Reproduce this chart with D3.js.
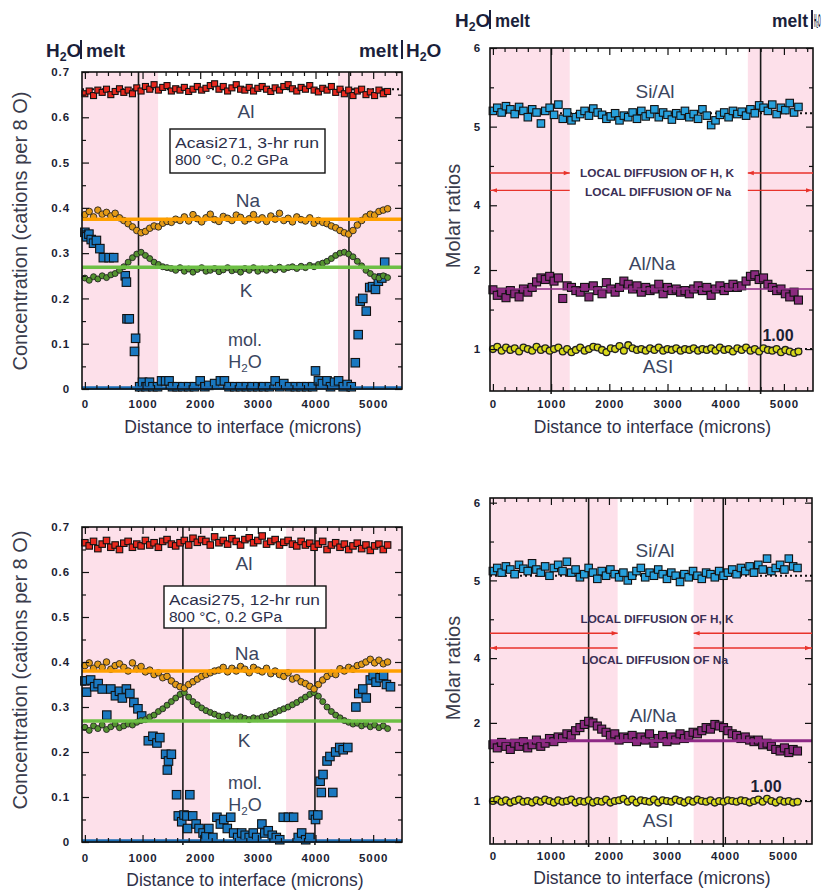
<!DOCTYPE html>
<html><head><meta charset="utf-8">
<script src="https://cdn.jsdelivr.net/npm/d3@7"></script>
<style>
body{margin:0;background:#fff}
svg{display:block}
text{font-family:"Liberation Sans",Arial,sans-serif}
</style>
</head><body>
<svg id="c" width="822" height="893"></svg>
<script>
// ---------- DATA ----------
const xPos = [0,75,150,225,300,375,450,525,600,675,750,825,900,975,1050,1125,1200,1275,1350,1425,1500,1575,1650,1725,1800,1875,1950,2025,2100,2175,2250,2325,2400,2475,2550,2625,2700,2775,2850,2925,3000,3075,3150,3225,3300,3375,3450,3525,3600,3675,3750,3825,3900,3975,4050,4125,4200,4275,4350,4425,4500,4575,4650,4725,4800,4875,4950,5025,5100,5175,5250];
const xTicks = [0,1000,2000,3000,4000,5000];
const concTicks = [0,0.1,0.2,0.3,0.4,0.5,0.6,0.7];
const ratioTicks = [1,2,4,5,6];

// Acasi271, 3-hr run (top left)
const tlAl = [0.652,0.658,0.648,0.660,0.655,0.662,0.650,0.657,0.663,0.655,0.660,0.652,0.665,0.658,
0.668,0.662,0.672,0.660,0.666,0.670,0.658,0.663,0.660,0.666,0.657,0.662,0.668,0.660,
0.664,0.670,0.674,0.662,0.668,0.658,0.665,0.672,0.662,0.660,0.666,0.658,0.664,0.668,
0.662,0.657,0.665,0.660,0.668,0.672,0.663,0.658,0.666,0.662,0.670,0.660,0.656,0.664,
0.660,0.668,0.655,0.662,0.652,0.660,0.648,0.658,0.662,0.650,0.656,0.648,0.660,0.652,0.657];
const tlNa = [0.385,0.392,0.380,0.395,0.386,0.390,0.382,0.388,
0.378,0.372,0.365,0.358,0.350,0.345,
0.348,0.355,0.360,0.358,0.366,0.370,0.368,
0.375,0.372,0.380,0.371,0.385,0.376,0.369,0.378,0.386,0.374,0.370,0.381,0.377,0.372,0.384,0.379,0.371,0.376,0.385,0.373,0.378,0.370,0.382,0.375,0.388,0.372,0.377,0.369,0.380,0.374,0.371,0.378,0.366,0.372,0.368,
0.365,0.360,0.356,0.350,0.345,0.342,
0.350,0.362,0.372,0.380,0.386,0.384,0.392,0.395,0.398];
const tlK = [0.245,0.240,0.248,0.243,0.250,0.246,0.252,0.255,0.262,0.270,
0.280,0.290,0.298,0.302,
0.295,0.288,0.280,0.275,0.270,0.268,0.266,
0.262,0.268,0.260,0.265,0.258,0.264,0.268,0.260,0.262,0.266,0.259,0.263,0.268,0.261,0.264,0.258,0.266,0.262,0.268,0.260,0.265,0.262,0.267,0.263,0.269,0.264,0.268,0.270,0.266,0.271,0.268,0.273,0.270,0.275,0.278,
0.282,0.288,0.295,0.300,0.302,0.298,
0.292,0.282,0.272,0.262,0.255,0.248,0.245,0.250,0.246];
const tlH2Ox = [0,30,70,110,150,200,260,320,420,500,700,720,730,770,880,860,
950,1000,1060,1120,1180,1260,1330,1400,1460,1520,1600,1700,1800,1900,2000,2080,2150,2250,2350,2420,2500,2600,2700,2800,2900,3000,3100,3200,3300,3380,3450,3550,3650,3750,3850,3950,4000,4050,4120,4200,4260,4330,4400,4480,4550,4620,
4690,4740,4775,4820,4880,4940,4990,5040,5090,5150,5200];
const tlH2O = [0.346,0.336,0.342,0.330,0.322,0.328,0.310,0.290,0.290,0.290,0.250,0.236,0.155,0.155,0.112,0.083,
0.005,0.015,0.005,0.015,0.005,0.005,0.018,0.018,0.018,0.005,0.005,0.005,0.005,0.005,0.018,0.005,0.008,0.012,0.018,0.018,0.005,0.005,0.005,0.005,0.005,0.005,0.005,0.005,0.018,0.005,0.012,0.005,0.005,0.005,0.005,0.005,0.040,0.018,0.012,0.018,0.005,0.015,0.018,0.005,0.010,0.005,
0.058,0.120,0.194,0.200,0.172,0.224,0.226,0.220,0.238,0.245,0.280];

// Acasi275, 12-hr run (bottom left)
const blAl = [0.665,0.658,0.668,0.652,0.662,0.670,0.655,0.660,0.650,0.664,0.668,0.655,0.662,0.658,
0.670,0.660,0.665,0.655,0.668,0.672,0.662,0.658,0.665,0.670,0.660,0.675,0.666,0.672,
0.668,0.660,0.678,0.665,0.670,0.662,0.674,0.668,0.660,0.672,0.676,0.665,0.670,0.680,
0.662,0.668,0.672,0.660,0.666,0.670,0.662,0.658,0.668,0.660,0.664,0.655,0.662,0.668,
0.650,0.660,0.665,0.655,0.662,0.650,0.658,0.664,0.652,0.660,0.648,0.658,0.662,0.650,0.660];
const blNa = [0.392,0.398,0.386,0.395,0.388,0.400,0.384,0.392,0.396,0.388,0.380,0.398,0.385,0.390,
0.378,0.382,0.372,0.376,0.365,0.368,0.358,0.350,0.345,
0.342,0.350,0.356,0.362,0.368,0.372,0.376,0.380,
0.382,0.388,0.378,0.386,0.380,0.390,0.384,0.376,0.388,0.382,0.378,0.386,0.374,0.380,
0.372,0.368,0.376,0.362,0.365,0.356,0.352,0.346,0.340,
0.350,0.360,0.368,0.375,0.372,0.385,0.380,0.388,0.384,0.392,0.395,0.400,0.406,0.398,0.404,0.396,0.400];
const blK = [0.255,0.248,0.258,0.252,0.260,0.250,0.256,0.262,0.254,0.258,0.262,0.260,0.266,0.270,
0.272,0.278,0.282,0.290,0.296,0.304,0.312,0.320,0.328,
0.332,0.322,0.312,0.305,0.298,0.292,0.288,0.284,
0.280,0.278,0.282,0.276,0.274,0.278,0.275,0.272,0.276,0.274,0.278,0.280,0.284,0.288,
0.292,0.296,0.300,0.305,0.310,0.316,0.322,0.328,0.332,
0.324,0.312,0.300,0.290,0.282,0.276,0.270,0.266,0.262,0.264,0.258,0.262,0.256,0.260,0.254,0.258,0.252];
const blH2Ox = [0,30,100,170,230,300,380,450,530,600,650,720,780,850,920,985,1100,1180,1250,1300,1400,1430,1450,1500,1590,1620,1680,1720,1770,1780,1820,1870,1930,1980,2050,2100,2150,2220,2290,2350,2410,2470,2530,2580,2650,2720,2780,2850,2920,2980,3070,3120,3180,3250,3320,3380,3440,3530,3620,3700,3760,3830,3900,3960,4000,4040,4080,4100,4130,4200,4250,4300,4350,4420,4480,4560,4700,4750,4820,4880,4950,5000,5050,5120,5180,5230,5300];
const blH2O = [0.358,0.333,0.360,0.345,0.352,0.340,0.282,0.340,0.325,0.335,0.320,0.340,0.330,0.310,0.296,0.280,0.225,0.235,0.220,0.232,0.195,0.160,0.180,0.195,0.105,0.058,0.045,0.060,0.058,0.030,0.105,0.058,0.040,0.030,0.020,0.012,0.030,0.010,0.055,0.040,0.050,0.030,0.055,0.020,0.010,0.020,0.015,0.010,0.020,0.010,0.040,0.020,0.025,0.015,0.010,0.005,0.055,0.055,0.055,0.010,0.020,0.005,0.010,0.060,0.050,0.060,0.135,0.110,0.150,0.180,0.190,0.110,0.200,0.210,0.205,0.210,0.300,0.330,0.340,0.320,0.360,0.370,0.355,0.365,0.370,0.350,0.345];

// Molar ratios, 3-hr run (top right)
const trSiAl = [5.20,5.24,5.18,5.26,5.22,5.16,5.25,5.20,5.12,5.22,5.18,5.04,5.20,5.24,
5.15,5.28,5.10,5.18,5.08,5.12,5.16,5.20,5.14,5.23,5.18,5.15,5.10,5.13,
5.17,5.08,5.14,5.12,5.18,5.10,5.20,5.13,5.16,5.22,5.12,5.18,5.15,5.09,
5.17,5.14,5.20,5.12,5.16,5.10,5.22,5.14,5.02,5.08,5.15,5.18,5.12,5.20,
5.16,5.19,5.14,5.22,5.17,5.27,5.24,5.20,5.28,5.16,5.24,5.21,5.30,5.18,5.25];
const trAlNa = [1.75,1.68,1.72,1.65,1.74,1.70,1.66,1.76,1.72,1.78,1.85,1.90,1.88,1.92,
1.86,1.90,1.64,1.80,1.78,1.74,1.72,
1.78,1.66,1.80,1.74,1.70,1.84,1.76,1.72,1.78,1.86,1.82,1.76,1.80,1.72,1.78,1.74,1.76,1.82,1.70,1.78,1.74,1.76,1.72,1.74,1.70,1.76,1.80,1.74,1.78,1.68,1.76,1.80,1.74,1.78,1.82,
1.78,1.80,1.86,1.92,1.94,1.88,
1.90,1.82,1.78,1.74,1.76,1.70,1.66,1.72,1.62];
const trASI = [1.00,1.03,0.98,1.02,0.99,1.01,0.97,1.02,1.00,0.98,1.03,0.99,1.01,0.98,
1.00,1.02,0.97,1.00,0.96,0.99,1.02,0.98,1.00,1.03,1.02,0.99,0.96,1.01,
1.00,1.04,0.98,1.05,1.01,0.99,1.00,0.98,1.01,0.99,1.02,0.98,1.00,0.99,
1.01,0.98,1.00,0.99,1.01,0.98,1.00,0.99,1.01,0.98,1.02,0.99,1.00,0.97,
1.01,0.99,1.02,0.98,1.00,0.97,1.01,0.99,0.98,1.00,0.96,0.99,0.97,0.95,0.97];

// Molar ratios, 12-hr run (bottom right)
const brSiAl = [5.12,5.16,5.10,5.18,5.14,5.08,5.20,5.15,5.12,5.22,5.14,5.10,5.18,5.06,
5.16,5.20,5.12,5.24,5.10,5.14,5.04,5.08,5.16,5.10,5.02,5.12,5.06,5.14,
5.08,5.04,5.10,5.00,5.06,5.12,5.16,5.04,5.10,5.06,5.14,5.08,5.02,5.10,
5.06,4.98,5.08,5.04,5.12,5.06,5.02,5.10,5.08,5.04,5.12,5.06,5.10,5.14,
5.08,5.16,5.12,5.18,5.10,5.20,5.14,5.28,5.12,5.16,5.20,5.14,5.28,5.18,5.16];
const brAlNa = [1.72,1.68,1.75,1.70,1.66,1.74,1.70,1.76,1.68,1.72,1.78,1.70,1.74,1.80,
1.76,1.82,1.80,1.86,1.84,1.90,1.94,1.98,2.02,
2.00,1.96,1.92,1.88,1.84,1.86,1.78,1.82,
1.80,1.84,1.76,1.82,1.78,1.86,1.74,1.80,1.84,1.76,1.82,1.78,1.86,1.80,
1.84,1.88,1.86,1.90,1.94,1.92,1.98,1.96,1.94,
1.90,1.86,1.84,1.80,1.82,1.78,1.76,1.78,1.72,1.74,1.70,1.66,1.64,1.68,1.62,1.66,1.64];
const brASI = [1.00,1.02,0.99,1.01,0.98,1.00,1.02,0.99,1.00,0.98,1.01,0.99,1.02,1.00,
0.98,1.01,0.99,1.00,1.02,0.98,1.00,0.99,1.01,0.98,1.00,0.99,1.02,0.98,
1.00,1.01,1.03,0.99,1.02,0.98,1.01,1.00,0.99,1.02,0.98,1.01,1.00,0.99,
1.02,1.00,0.98,1.01,0.99,1.02,1.00,0.99,1.01,0.98,1.00,0.99,1.01,1.00,
0.99,1.01,1.00,0.98,1.00,1.02,0.99,1.03,1.00,0.98,1.01,0.99,1.00,0.98,0.99];

// reference / fit levels
const tlFit = {Al:0.662, Na:0.375, K:0.269, H2O:0.002};
const blFit = {Al:0.665, Na:0.380, K:0.269, H2O:0.002};
const trFit = {SiAl:5.17, AlNa:1.76, ASI:1.00};
const brFit = {SiAl:5.06, AlNa:1.77, ASI:1.00};

// interface / diffusion zones (microns)
const tlPink = [[-50,1270],[4390,5500]], tlInterfaces = [930,4580];
const trPink = [[-50,1320],[4380,5500]], trInterfaces = [1000,4600];
const blPink = [[-50,2170],[3490,5500]], blInterfaces = [1700,3990];
const brPink = [[-50,2150],[3460,5500]], brInterfaces = [1650,3970];
const trDiff = {HK:4.41, Na:4.19};
const brDiff = {HK:4.32, Na:4.13};

// ---------- DRAWING ----------
const svg = d3.select('#c');
const C = {
  pink:'#fde0ea', red:'#e8281e', orange:'#e39a16', orangeLine:'#ffa000',
  green:'#549330', greenLine:'#6dbf45', blue:'#1a78c0', blueLine:'#1a6db5',
  cyan:'#27a0dc', purple:'#8a2a7e', purpleLine:'#8e2a86', yellow:'#d9d91a',
  text:'#3b4660', tick:'#1b1e33'
};
const HF = '"Liberation Sans Narrow","DejaVu Sans Condensed",sans-serif';

function drawPanel(p){
  const g = svg.append('g');
  const x = d3.scaleLinear().domain([-50,5500]).range([p.left,p.right]);
  const y = p.y;
  const top = p.top, bot = p.bot;

  g.append('g').selectAll('rect').data(p.pink).join('rect')
    .attr('x', d=>x(d[0])).attr('width', d=>x(d[1])-x(d[0]))
    .attr('y', top).attr('height', bot-top).attr('fill', C.pink);

  g.append('g').selectAll('line').data(p.vlines).join('line')
    .attr('x1', d=>x(d)).attr('x2', d=>x(d)).attr('y1', top).attr('y2', bot+3)
    .attr('stroke','#1a1a1a').attr('stroke-width',1.6);

  const drawLine = (l)=>{
    g.append('line').attr('x1', p.left).attr('x2', p.right)
      .attr('y1', y(l.v)).attr('y2', y(l.v))
      .attr('stroke', l.color).attr('stroke-width', l.w)
      .attr('stroke-dasharray', l.dash || null);
  };
  (p.under||[]).forEach(drawLine);

  p.series.forEach(s=>{
    const sg = g.append('g');
    if (s.shape === 'sq') {
      sg.selectAll('rect').data(s.v).join('rect')
        .attr('x', (d,i)=>x(s.x[i])-s.size/2).attr('y', d=>y(d)-s.size/2)
        .attr('width', s.size).attr('height', s.size)
        .attr('fill', s.fill).attr('stroke','#111').attr('stroke-width',s.sw||1.1);
    } else {
      sg.selectAll('circle').data(s.v).join('circle')
        .attr('cx', (d,i)=>x(s.x[i])).attr('cy', d=>y(d)).attr('r', s.size)
        .attr('fill', s.fill).attr('stroke','#222').attr('stroke-width',s.sw||0.9);
    }
  });
  (p.over||[]).forEach(drawLine);

  // axes
  const styleAx = (a)=>{
    a.select('.domain').remove();
    a.selectAll('line').attr('stroke','#111').attr('stroke-width',1.2);
    a.selectAll('text').attr('font-family','"Liberation Sans",Arial,sans-serif')
      .attr('font-weight','bold').attr('font-size',11.5).attr('fill',C.tick)
      .attr('letter-spacing',0.9);
  };
  const xMinor = d3.range(200,5500,200).filter(v=>v%1000!==0);
  styleAx(g.append('g').attr('transform',`translate(${p.left},0)`)
    .call(d3.axisLeft(y).tickValues(p.yMajor).tickSize(-7).tickPadding(p.yPad).tickFormat(p.yFmt)));
  styleAx(g.append('g').attr('transform',`translate(${p.left},0)`)
    .call(d3.axisLeft(y).tickValues(p.yMinor).tickSize(-4).tickFormat('')));
  styleAx(g.append('g').attr('transform',`translate(${p.right},0)`)
    .call(d3.axisRight(y).tickValues(p.yMajor).tickSize(-7).tickFormat('')));
  styleAx(g.append('g').attr('transform',`translate(${p.right},0)`)
    .call(d3.axisRight(y).tickValues(p.yMinor).tickSize(-4).tickFormat('')));
  styleAx(g.append('g').attr('transform',`translate(0,${bot})`)
    .call(d3.axisBottom(x).tickValues(xTicks).tickSize(-7).tickPadding(p.xPad).tickFormat(d3.format('d'))));
  styleAx(g.append('g').attr('transform',`translate(0,${bot})`)
    .call(d3.axisBottom(x).tickValues(xMinor).tickSize(-4).tickFormat('')));
  styleAx(g.append('g').attr('transform',`translate(0,${top})`)
    .call(d3.axisTop(x).tickValues(xTicks).tickSize(-7).tickFormat('')));
  styleAx(g.append('g').attr('transform',`translate(0,${top})`)
    .call(d3.axisTop(x).tickValues(xMinor).tickSize(-4).tickFormat('')));

  g.append('rect').attr('x',p.left).attr('y',top).attr('width',p.right-p.left).attr('height',bot-top)
    .attr('fill','none').attr('stroke','#111').attr('stroke-width',1.6);

  // titles
  g.append('text').attr('x', (p.left+p.right)/2 + p.xtDx).attr('y', p.xtY)
    .attr('text-anchor','middle').attr('font-size',17.5).attr('fill','#2f3048')
    .text('Distance to interface (microns)');
  g.append('text').attr('transform',`translate(${p.ytX},${p.ytY}) rotate(-90)`)
    .attr('text-anchor','middle').attr('font-size',20).attr('fill','#3a3c4c')
    .text(p.yTitle);

  return {g, x, y};
}

function label(g, txt, cx, by, size, opts){
  opts = opts || {};
  const t = g.append('text').attr('x',cx).attr('y',by).attr('text-anchor', opts.anchor||'middle')
    .attr('font-size',size).attr('fill',opts.fill||C.text);
  if (opts.bold) t.attr('font-weight','bold');
  if (opts.family) t.attr('font-family',opts.family);
  if (opts.len) t.attr('textLength',opts.len).attr('lengthAdjust','spacingAndGlyphs');
  t.text(txt);
  return t;
}
function h2o(g, cx, by, size, opts){
  opts = opts || {};
  const t = g.append('text').attr('x',cx).attr('y',by).attr('text-anchor',opts.anchor||'middle')
    .attr('font-size',size).attr('fill',opts.fill||C.text);
  if (opts.bold) t.attr('font-weight','bold');
  if (opts.family) t.attr('font-family',opts.family);
  t.append('tspan').text('H');
  t.append('tspan').attr('font-size',size*0.65).attr('dy',size*0.2).text('2');
  t.append('tspan').attr('dy',-size*0.2).text('O');
  return t;
}
function infoBox(g, x0, y0, w, h, l1, l2, b1, b2){
  g.append('rect').attr('x',x0).attr('y',y0).attr('width',w).attr('height',h)
    .attr('fill','#fff').attr('stroke','#111').attr('stroke-width',1.4);
  label(g, l1, x0+5, b1, 15.5, {anchor:'start', fill:'#2c2f4a', len:w-11});
  label(g, l2, x0+5, b2, 15.5, {anchor:'start', fill:'#2c2f4a'});
}
function arrowLine(g, x1, x2, yy, headAt, dir){
  g.append('line').attr('x1',x1).attr('x2',x2).attr('y1',yy).attr('y2',yy)
    .attr('stroke','#e8332b').attr('stroke-width',1.4);
  g.append('path').attr('d',`M${headAt},${yy} l${-dir*6},-2.2 l0,4.4 z`).attr('fill','#e8332b');
}
function header(g, x1, bar, x2, by){
  h2o(g, x1, by, 19, {anchor:'start',bold:true,family:HF,fill:'#1b1f3b'});
  g.append('line').attr('x1',bar).attr('x2',bar).attr('y1',by-17).attr('y2',by+2).attr('stroke','#1b1f3b').attr('stroke-width',2);
  label(g,'melt',bar+5,by,19,{anchor:'start',bold:true,family:HF,fill:'#1b1f3b',len:x2-bar-5});
}
function headerR(g, x1, bar, by, narrowTail){
  label(g,'melt',x1,by,19,{anchor:'start',bold:true,family:HF,fill:'#1b1f3b',len:bar-x1-4});
  g.append('line').attr('x1',bar).attr('x2',bar).attr('y1',by-17).attr('y2',by+2).attr('stroke','#1b1f3b').attr('stroke-width',2);
  if (narrowTail) {
    // the reference shows only a sliver of this label at the picture's right edge
    g.append('text').attr('transform',`translate(${bar+2},${by}) scale(0.18,1)`)
      .attr('font-size',19).attr('font-weight','bold').attr('font-family',HF).attr('fill','#1b1f3b')
      .text('H\u2082O');
  } else {
    h2o(g, bar+4, by, 19, {anchor:'start',bold:true,family:HF,fill:'#1b1f3b'});
  }
}

const concFmt = d => d===0 ? '0' : d3.format('.1f')(d);
const concMinor = [0.05,0.15,0.25,0.35,0.45,0.55,0.65];
const ratioMinor = [1.5,2.5,4.5,5.5];

// ---- Top-left ----
{
  const P = drawPanel({
    left:82, right:402, top:72, bot:389,
    y: d3.scaleLinear().domain([0,0.7]).range([389,72]),
    pink: tlPink, vlines: tlInterfaces,
    yMajor: concTicks, yMinor: concMinor, yFmt: concFmt, yPad:12, xPad:11,
    under:[{v:tlFit.Al, color:'#111', w:2, dash:'2,3'}],
    series:[
      {x:tlH2Ox, v:tlH2O, shape:'sq', size:8.5, fill:C.blue},
      {x:xPos, v:tlK, shape:'c', size:3, fill:C.green},
      {x:xPos, v:tlNa, shape:'c', size:3.3, fill:C.orange},
      {x:xPos, v:tlAl, shape:'sq', size:6, fill:C.red}
    ],
    over:[{v:tlFit.Na, color:C.orangeLine, w:3.5},{v:tlFit.K, color:C.greenLine, w:3.5},{v:tlFit.H2O, color:C.blueLine, w:3.5}],
    xtY:433, xtDx:1, ytX:27, ytY:231, yTitle:'Concentration (cations per 8 O)'
  });
  const g = P.g;
  label(g,'Al',246,118,19);
  infoBox(g,170,129,155,44,'Acasi271, 3-hr run','800 °C, 0.2 GPa',148,165);
  label(g,'Na',248,207,19);
  label(g,'K',246,297,19);
  label(g,'mol.',245,346,18);
  h2o(g,245,368,18);
  header(g, 46, 81, 125, 57);
  headerR(g, 359, 402, 57, false);
}

// ---- Bottom-left ----
{
  const P = drawPanel({
    left:82, right:402, top:527, bot:842,
    y: d3.scaleLinear().domain([0,0.7]).range([842,527]),
    pink: blPink, vlines: blInterfaces,
    yMajor: concTicks, yMinor: concMinor, yFmt: concFmt, yPad:12, xPad:12,
    under:[],
    series:[
      {x:blH2Ox, v:blH2O, shape:'sq', size:8.5, fill:C.blue},
      {x:xPos, v:blK, shape:'c', size:3, fill:C.green},
      {x:xPos, v:blNa, shape:'c', size:3.3, fill:C.orange},
      {x:xPos, v:blAl, shape:'sq', size:6.5, fill:C.red}
    ],
    over:[{v:blFit.Na, color:C.orangeLine, w:3.5},{v:blFit.K, color:C.greenLine, w:3.5},{v:blFit.H2O, color:C.blueLine, w:3.5}],
    xtY:886, xtDx:3, ytX:27, ytY:670, yTitle:'Concentration (cations per 8 O)'
  });
  const g = P.g;
  label(g,'Al',244,570,19);
  infoBox(g,164,586,162,42,'Acasi275, 12-hr run','800 °C, 0.2 GPa',605,622);
  label(g,'Na',247,660,19);
  label(g,'K',244,747,19);
  label(g,'mol.',245,789,18);
  h2o(g,245,811,18);
}

// ---- Top-right ----
{
  const P = drawPanel({
    left:490, right:813, top:48, bot:391,
    y: d3.scaleLinear().domain([0.47,2.62,3.8,6.0]).range([391,221,221,48]),
    pink: trPink, vlines: trInterfaces,
    yMajor: ratioTicks, yMinor: ratioMinor, yFmt: d3.format('d'), yPad:9, xPad:9,
    under:[{v:trFit.SiAl, color:'#111', w:2, dash:'2,3'},{v:trFit.ASI, color:'#111', w:2, dash:'2,3'}],
    series:[
      {x:xPos, v:trSiAl, shape:'sq', size:7.5, fill:C.cyan},
      {x:xPos, v:trAlNa, shape:'sq', size:8, fill:C.purple},
      {x:xPos, v:trASI, shape:'c', size:3.4, fill:C.yellow, sw:1.3}
    ],
    over:[{v:trFit.AlNa, color:C.purpleLine, w:1.5}],
    xtY:433, xtDx:1, ytX:460, ytY:216, yTitle:'Molar ratios'
  });
  const {g,x,y} = P;
  label(g,'Si/Al',655,98,19);
  label(g,'Al/Na',652,270,19);
  label(g,'ASI',658,373,19);
  label(g,'1.00',778,341,16,{bold:true,family:HF,fill:'#1b1e33'});
  arrowLine(g, x(-50), x(trPink[0][1]), y(trDiff.HK), x(trPink[0][1]), 1);
  arrowLine(g, x(trPink[1][0]), x(5500), y(trDiff.HK), x(trPink[1][0]), -1);
  arrowLine(g, x(-50), x(trPink[0][1]), y(trDiff.Na), x(-50)+1, -1);
  arrowLine(g, x(trPink[1][0]), x(5500), y(trDiff.Na), x(5500)-1, 1);
  label(g,'LOCAL DIFFUSION OF H, K',657,177,10,{bold:true,fill:'#3a2f55',len:154});
  label(g,'LOCAL DIFFUSION OF Na',658,196,10,{bold:true,fill:'#3a2f55',len:146});
  header(g, 455, 490, 530, 27);
  headerR(g, 772, 812, 27, true);
}

// ---- Bottom-right ----
{
  const P = drawPanel({
    left:490, right:812, top:498, bot:844,
    y: d3.scaleLinear().domain([0.45,2.6,3.77,6.06]).range([844,676,676,498]),
    pink: brPink, vlines: brInterfaces,
    yMajor: ratioTicks, yMinor: ratioMinor, yFmt: d3.format('d'), yPad:9, xPad:8,
    under:[{v:brFit.SiAl, color:'#111', w:2, dash:'2,3'},{v:brFit.ASI, color:'#111', w:2, dash:'2,3'}],
    series:[
      {x:xPos, v:brSiAl, shape:'sq', size:7.5, fill:C.cyan},
      {x:xPos, v:brAlNa, shape:'sq', size:8, fill:C.purple},
      {x:xPos, v:brASI, shape:'c', size:3.4, fill:C.yellow, sw:1.3}
    ],
    over:[{v:brFit.AlNa, color:C.purpleLine, w:3}],
    xtY:884, xtDx:1, ytX:460, ytY:668, yTitle:'Molar ratios'
  });
  const {g,x,y} = P;
  label(g,'Si/Al',655,557,19);
  label(g,'Al/Na',653,722,19);
  label(g,'ASI',658,827,19);
  label(g,'1.00',766,792,16,{bold:true,family:HF,fill:'#1b1e33'});
  arrowLine(g, x(-50), x(brPink[0][1]), y(brDiff.HK), x(brPink[0][1]), 1);
  arrowLine(g, x(brPink[1][0]), x(5500), y(brDiff.HK), x(brPink[1][0]), -1);
  arrowLine(g, x(-50), x(brPink[0][1]), y(brDiff.Na), x(-50)+1, -1);
  arrowLine(g, x(brPink[1][0]), x(5500), y(brDiff.Na), x(5500)-1, 1);
  label(g,'LOCAL DIFFUSION OF H, K',657,623,10,{bold:true,fill:'#3a2f55',len:153});
  label(g,'LOCAL DIFFUSION OF Na',655,664,10,{bold:true,fill:'#3a2f55',len:146});
}
</script>
</body></html>
